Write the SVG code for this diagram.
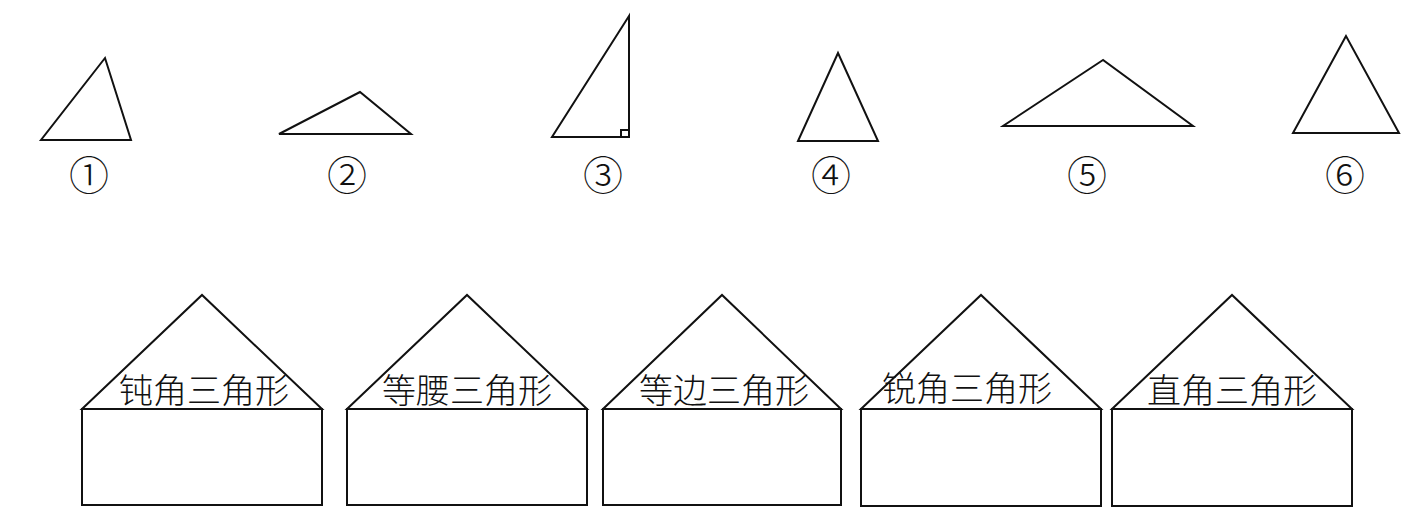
<svg xmlns="http://www.w3.org/2000/svg" width="1425" height="519" viewBox="0 0 1425 519">
<style>
.s{fill:none;stroke:#111;stroke-width:2;stroke-linejoin:miter}
.n{font-family:"Noto Sans CJK SC","DejaVu Sans",sans-serif;font-size:40px;fill:#111;text-anchor:middle;font-weight:300}
.t{font-family:"Noto Sans CJK SC",sans-serif;font-size:34px;fill:#111;text-anchor:middle;font-weight:300}
</style>
<rect width="1425" height="519" fill="#fff"/>
<g id="tri1"><polygon class="s" points="105,58 41,140 131,140"/><text class="n" x="89" y="190">①</text></g>
<g id="tri2"><polygon class="s" points="360,92 279,134 411,134"/><text class="n" x="347" y="190">②</text></g>
<g id="tri3"><polygon class="s" points="629,16 552,137 629,137"/><polyline class="s" stroke-width="1.5" points="621,137 621,130 629,130"/><text class="n" x="603" y="190">③</text></g>
<g id="tri4"><polygon class="s" points="838,53 798,141 878,141"/><text class="n" x="831" y="190">④</text></g>
<g id="tri5"><polygon class="s" points="1103,60 1003,126 1193,126"/><text class="n" x="1087" y="190">⑤</text></g>
<g id="tri6"><polygon class="s" points="1346,36 1293,133 1399,133"/><text class="n" x="1345" y="190">⑥</text></g>
<g id="house1"><polygon class="s" points="82,409 202,295 322,409"/><rect class="s" x="82" y="409" width="240" height="96"/><text class="t" x="204" y="403">钝角三角形</text></g>
<g id="house2"><polygon class="s" points="347,409 467,295 587,409"/><rect class="s" x="347" y="409" width="240" height="96"/><text class="t" x="467" y="403">等腰三角形</text></g>
<g id="house3"><polygon class="s" points="603,409 722,295 841,409"/><rect class="s" x="603" y="409" width="238" height="96"/><text class="t" x="724" y="403">等边三角形</text></g>
<g id="house4"><polygon class="s" points="861,409 981,295 1101,409"/><rect class="s" x="861" y="409" width="240" height="97"/><text class="t" x="967" y="401">锐角三角形</text></g>
<g id="house5"><polygon class="s" points="1112,409 1232,295 1352,409"/><rect class="s" x="1112" y="409" width="240" height="97"/><text class="t" x="1232" y="403">直角三角形</text></g>
</svg>
